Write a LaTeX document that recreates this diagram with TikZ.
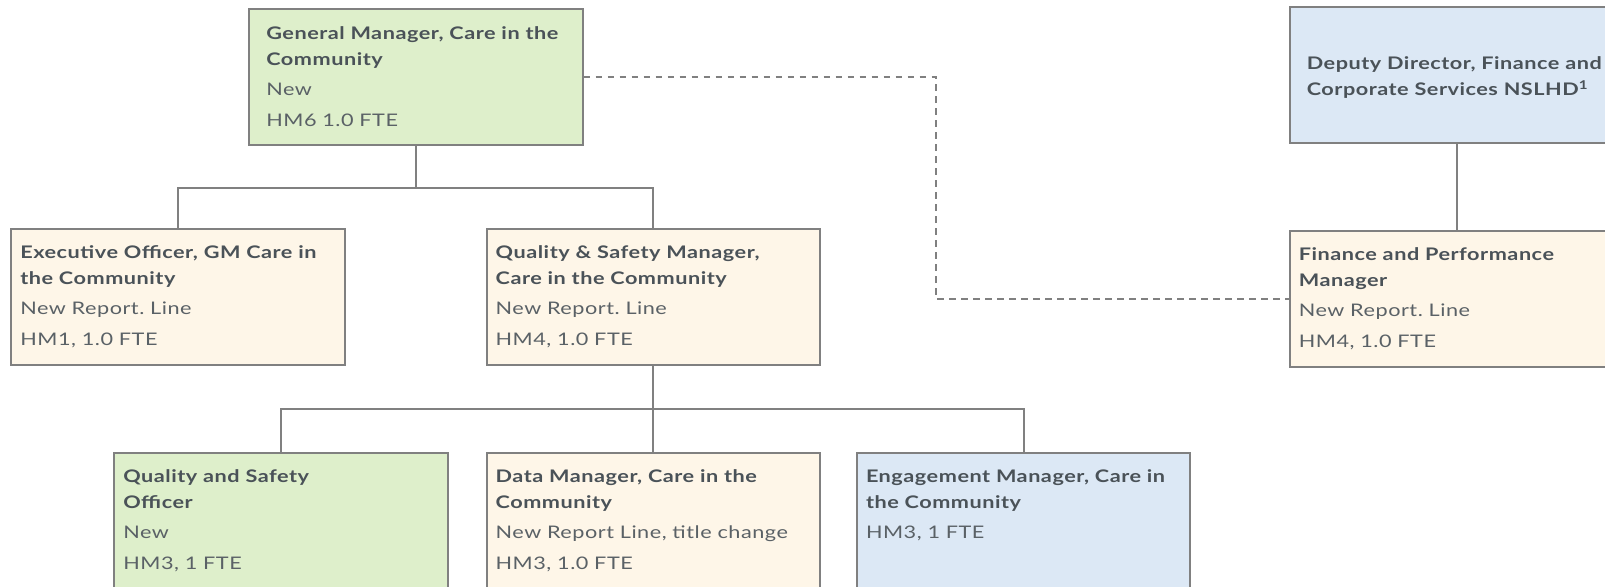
\documentclass[tikz,border=0pt]{standalone}
\usepackage{fontspec}
\setmainfont{Lato}[LetterSpace=3,FakeStretch=1.25]
\frenchspacing
\usetikzlibrary{positioning}
\definecolor{linegray}{HTML}{808080}
\definecolor{titlegray}{HTML}{4A5258}
\definecolor{bodygray}{HTML}{5A6166}
\definecolor{newgreen}{HTML}{DEEFCB}
\definecolor{cream}{HTML}{FEF6E8}
\definecolor{paleblue}{HTML}{DCE8F5}

\begin{document}
\begin{tikzpicture}
    [x=0.75pt, y=-0.75pt,
    node distance=63pt and 105pt,
    link/.style={-,
                 linegray,
                 line width=1.5pt},
    dotlink/.style={link,
                    dash pattern=on 5pt off 4pt},
    card/.style={rectangle,
                 draw=linegray,
                 line width=1.5pt,
                 inner sep=6.75pt,
                 minimum width=250pt,
                 minimum height=102pt,
                 text width=236.5pt,
                 align=left,
                 text=bodygray,
                 font=\fontsize{13}{19.5}\selectfont},
    topcard/.style={card,
                    inner xsep=12.75pt,
                    text width=224.5pt}]
    \clip (0,0) rectangle (1605,586);
    \node [topcard,
           fill=newgreen] (GM) at (416,76.5)
          {\textbf{\color{titlegray}General Manager, Care in the\\Community}\\[3pt]New\\[3.5pt]HM6 1.0 FTE};
    \node [topcard,
           fill=paleblue] (DD) at (1456.5,75)
          {\rule{0pt}{13.5pt}\textbf{\color{titlegray}Deputy Director, Finance and\\Corporate Services NSLHD\textsuperscript{1}}};
    \node [card,
           fill=cream] (EO) at (178,297)
          {\textbf{\color{titlegray}Executive Officer, GM Care in\\the Community}\\[3pt]New Report. Line\\[3.5pt]HM1, 1.0 FTE};
    \node [card,
           fill=cream,
           right=of EO] (QSM)
          {\textbf{\color{titlegray}Quality \& Safety Manager,\\Care in the Community}\\[3pt]New Report. Line\\[3.5pt]HM4, 1.0 FTE};
    \node [card,
           fill=cream,
           below=64.5pt of DD] (FPM)
          {\textbf{\color{titlegray}Finance and Performance\\Manager}\\[3pt]New Report. Line\\[3.5pt]HM4, 1.0 FTE};
    \node [card,
           fill=cream,
           below=64.5pt of QSM] (DM)
          {\textbf{\color{titlegray}Data Manager, Care in the\\Community}\\[3pt]New Report Line, title change\\[3.5pt]HM3, 1.0 FTE};
    \node [card,
           fill=newgreen,
           left=27.75pt of DM] (QSO)
          {\textbf{\color{titlegray}Quality and Safety\\Officer}\\[3pt]New\\[3.5pt]HM3, 1 FTE};
    \node [card,
           fill=paleblue,
           right=26.25pt of DM] (EM)
          {\textbf{\color{titlegray}Engagement Manager, Care in\\the Community}\\[3pt]HM3, 1 FTE\\[3.5pt]\rule[-3pt]{0pt}{0pt}};
    \coordinate (bend) at (936,0);
    \draw[link] (GM.south) -- ++(0,42) -| (EO.north);
    \draw[link] (GM.south) ++(0,42) -| (QSM.north);
    \draw[link] (QSM.south) -- ++(0,43) -| (QSO.north);
    \draw[link] (QSM.south) -- (DM.north);
    \draw[link] (QSM.south) ++(0,43) -| (EM.north);
    \draw[link] (DD) -- (FPM);
    \draw[dotlink] (GM.east) -| (bend |- FPM.west) -- (FPM.west);
\end{tikzpicture}
\end{document}
